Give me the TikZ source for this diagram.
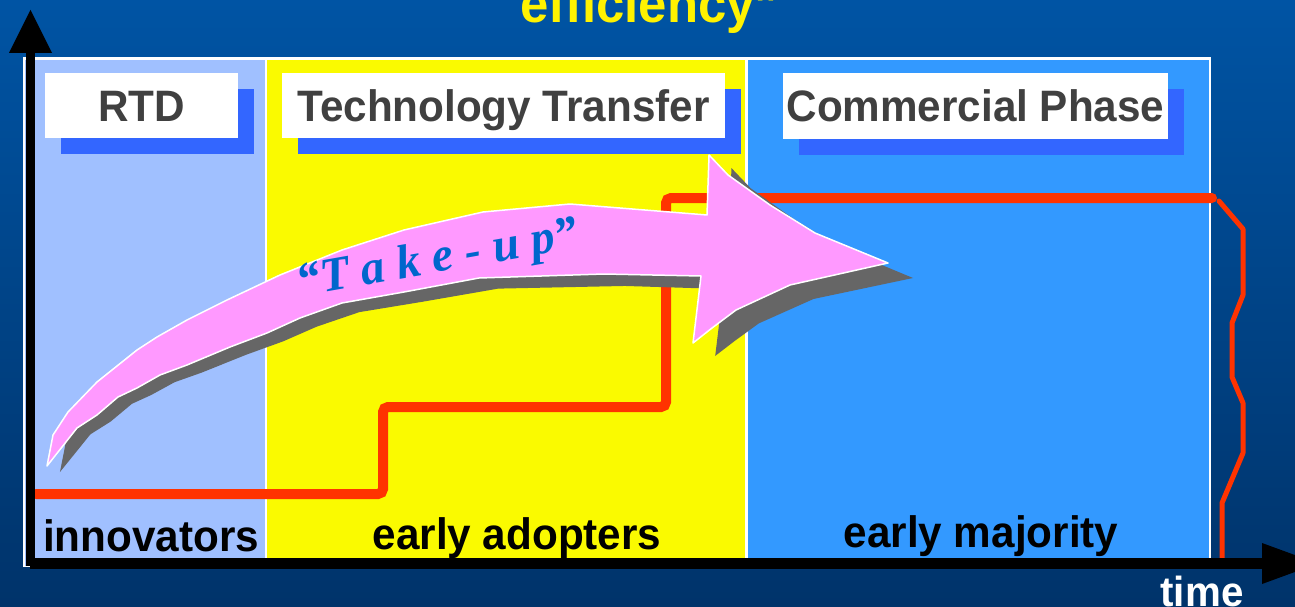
\documentclass[tikz,border=0pt]{standalone}
\usepackage{fontspec}
\setmainfont{Liberation Sans}[FakeStretch=0.96]
\newfontfamily\takefont{Liberation Serif}
\definecolor{bgtop}{HTML}{0054A4}
\definecolor{bgbot}{HTML}{00336A}
\definecolor{rtdc}{HTML}{A0C0FF}
\definecolor{yel}{HTML}{FAFA00}
\definecolor{comc}{HTML}{3399FF}
\definecolor{shblue}{HTML}{3366FF}
\definecolor{pinkc}{HTML}{FF99FF}
\definecolor{shgray}{HTML}{666666}
\definecolor{redc}{HTML}{FF3300}
\definecolor{ttlgray}{HTML}{404040}
\definecolor{takeblue}{HTML}{0066CC}
\tikzset{
  titlebox/.style={fill=white, inner sep=0pt, text height=31.5pt, text depth=0pt, text=ttlgray,
    font=\fontsize{44}{48}\selectfont\bfseries},
  titleshadow/.style={fill=shblue},
  bottomlbl/.style={anchor=base, inner sep=0pt, text=black, font=\fontsize{44}{48}\selectfont\bfseries},
  redline/.style={draw=redc, line width=10pt, line cap=round, rounded corners=5pt},
  thinred/.style={draw=redc, line width=5pt, line cap=round, line join=round},
  axisline/.style={draw=black},
}
\newcommand{\takeuppath}{(53,435) -- (68,412) -- (97,382) -- (137,350) -- (157,337) -- (187,320) -- (227,300)
  -- (280,275) -- (342,250) -- (404,230) -- (483,212) -- (570,204) -- (707,215)
  -- (709,155) -- (728,175) -- (770,205) -- (815,233) -- (888,263)
  -- (790,285) -- (736,310) -- (712,328) -- (693,343)
  -- (701,276) -- (604,274) -- (479,278) -- (404,292) -- (342,303) -- (300,318) -- (267,333)
  -- (230,347) -- (187,365) -- (160,375) -- (137,388) -- (118,397) -- (97,415) -- (77,428) -- (47,466) -- cycle}
\begin{document}
\begin{tikzpicture}[x=1pt,y=-1pt]
\useasboundingbox (0,0) rectangle (1295,607);
\shade[top color=bgtop,bottom color=bgbot] (0,0) rectangle (1295,607);
% title fragment at the top
\node[anchor=base west, inner sep=0pt, text=yellow, font=\fontsize{53}{56}\selectfont\bfseries] (eff) at (520,23) {efficiency”};
% panels
\fill[white] (23,57) rectangle (1211,567);
\fill[rtdc] (25,60) rectangle (265,566);
\fill[yel] (267,60) rectangle (745,566);
\fill[comc] (748,60) rectangle (1209,566);
% title boxes
\fill[titleshadow] (61,89) rectangle (254,154);
\fill[titleshadow] (298,89) rectangle (741,154);
\fill[titleshadow] (799,89) rectangle (1184,155);
\node[titlebox, minimum width=193pt, minimum height=65pt] (rtd) at (141.5,105.5) {RTD};
\node[titlebox, minimum width=443pt, minimum height=65pt] (tt) at (503.5,105.5) {Technology Transfer};
\node[titlebox, minimum width=385pt, minimum height=66pt] (cp) at (975.5,106) {Commercial Phase};
% staircase
\coordinate (s0) at (36,494);
\coordinate (s1) at (383,494);
\coordinate (s2) at (383,407);
\coordinate (s3) at (666,407);
\coordinate (s4) at (666,198);
\coordinate (s5) at (1212,198);
\draw[redline] (s0) -- (s1) -- (s2) -- (s3) -- (s4) -- (s5);
\draw[thinred] (1219,201) -- (1243,229) -- (1243,295) -- (1232,323) -- (1232,377) -- (1243,403) -- (1243,453) -- (1222,503) -- (1222,562);
% take-up arrow
\begin{scope}[cm={1.0143,-0.0107,0,1,(12.3pt,-5.5pt)}]
\fill[shgray] \takeuppath;
\end{scope}
\fill[pinkc, draw=white, line width=1.5pt, line join=round] \takeuppath;
\node[anchor=base, inner sep=0pt, rotate=10, text=takeblue, font=\takefont\fontsize{48}{50}\selectfont\bfseries\itshape] (take) at (440,272) {“T a k e - u p”};
% axes
\coordinate (vbot) at (30.5,566);
\coordinate (vtop) at (30.5,50);
\coordinate (hleft) at (30,563.5);
\coordinate (hright) at (1265,563.5);
\draw[axisline, line width=9pt] (vbot) -- (vtop);
\fill[black] (30.5,10) -- (52,53) -- (9,53) -- cycle;
\draw[axisline, line width=11pt] (hleft) -- (hright);
\fill[black] (1318,563.5) -- (1262,543) -- (1262,584) -- cycle;
% labels
\node[bottomlbl] (inn) at (151,551) {innovators};
\node[bottomlbl] (ea) at (517,549) {early adopters};
\node[bottomlbl] (em) at (981,547) {early majority};
\node[anchor=base, inner sep=0pt, text=white, font=\fontsize{42}{46}\selectfont\bfseries] (time) at (1202,606) {time};
\end{tikzpicture}
\end{document}
